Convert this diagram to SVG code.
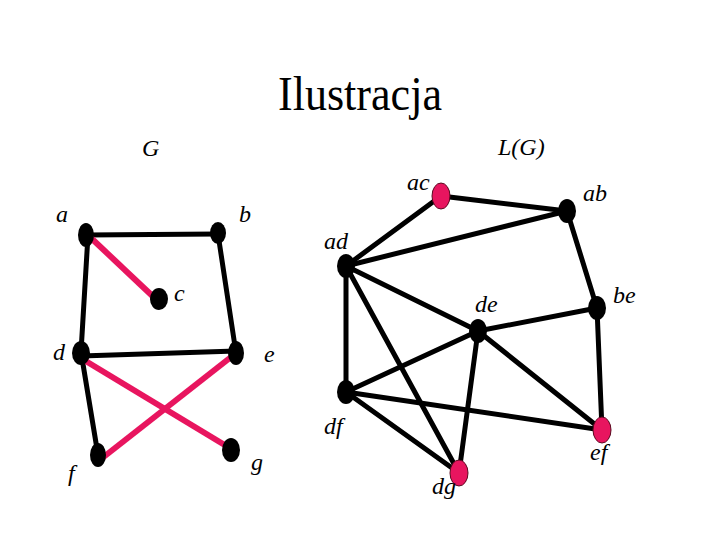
<svg xmlns="http://www.w3.org/2000/svg" width="720" height="540" viewBox="0 0 720 540">
<style>
.bg{fill:#fff}
.e{stroke:#000;stroke-width:5;stroke-linecap:round;fill:none}
.p{stroke:#e8155f;stroke-width:6;stroke-linecap:butt;fill:none}
.n{fill:#000}
.pn{fill:#e8155f;stroke:#5a0a20;stroke-width:1}
.lbl{font-family:"Liberation Serif","Times New Roman",serif;font-style:italic;font-size:24px;fill:#000}
.title{font-family:"Liberation Serif","Times New Roman",serif;font-size:48px;fill:#000}
</style>
<rect class="bg" x="0" y="0" width="720" height="540"/>
<text class="title" x="278" y="110" textLength="164" lengthAdjust="spacingAndGlyphs">Ilustracja</text>
<text class="lbl" x="142" y="156">G</text>
<text class="lbl" x="498" y="155">L(G)</text>
<g id="connectors">
  <line class="e" x1="86" y1="235" x2="218" y2="234"/>
  <line class="e" x1="88" y1="235" x2="81" y2="352"/>
  <line class="e" x1="218" y1="234" x2="236" y2="353"/>
  <line class="e" x1="81" y1="356" x2="236" y2="351"/>
  <line class="e" x1="81" y1="352" x2="98" y2="455"/>
  <line class="p" x1="90" y1="237" x2="162" y2="305"/>
  <line class="p" x1="84" y1="360" x2="228" y2="447"/>
  <line class="p" x1="240" y1="350" x2="101" y2="459"/>
  <line class="e" x1="441" y1="196" x2="567" y2="211"/>
  <line class="e" x1="441" y1="196" x2="346" y2="266"/>
  <line class="e" x1="346" y1="266" x2="567" y2="211"/>
  <line class="e" x1="567" y1="211" x2="597" y2="308"/>
  <line class="e" x1="346" y1="266" x2="478" y2="331"/>
  <line class="e" x1="346" y1="266" x2="346" y2="392"/>
  <line class="e" x1="346" y1="266" x2="459" y2="473"/>
  <line class="e" x1="597" y1="308" x2="478" y2="331"/>
  <line class="e" x1="597" y1="308" x2="602" y2="430"/>
  <line class="e" x1="478" y1="331" x2="346" y2="392"/>
  <line class="e" x1="478" y1="331" x2="459" y2="473"/>
  <line class="e" x1="478" y1="331" x2="602" y2="430"/>
  <line class="e" x1="346" y1="392" x2="459" y2="473"/>
  <line class="e" x1="346" y1="392" x2="602" y2="430"/>
</g>
<g id="a"><ellipse class="n" cx="86" cy="235" rx="8" ry="12"/><text class="lbl" x="56" y="222">a</text></g>
<g id="b"><ellipse class="n" cx="218" cy="233" rx="8" ry="11"/><text class="lbl" x="239" y="222">b</text></g>
<g id="c"><ellipse class="n" cx="159" cy="299" rx="9" ry="11"/><text class="lbl" x="174" y="301">c</text></g>
<g id="d"><ellipse class="n" cx="81" cy="353" rx="9" ry="12"/><text class="lbl" x="53" y="360">d</text></g>
<g id="e"><ellipse class="n" cx="236" cy="353" rx="8" ry="12"/><text class="lbl" x="264" y="362">e</text></g>
<g id="f"><ellipse class="n" cx="98" cy="455" rx="8" ry="12"/><text class="lbl" x="68" y="481">f</text></g>
<g id="g"><ellipse class="n" cx="231" cy="450" rx="9" ry="12"/><text class="lbl" x="251" y="470">g</text></g>
<g id="ac"><ellipse class="pn" cx="441" cy="196" rx="9" ry="13"/><text class="lbl" x="407" y="190">ac</text></g>
<g id="ab"><ellipse class="n" cx="567" cy="211" rx="9" ry="12"/><text class="lbl" x="583" y="201">ab</text></g>
<g id="ad"><ellipse class="n" cx="346" cy="266" rx="9" ry="12"/><text class="lbl" x="324" y="249">ad</text></g>
<g id="be"><ellipse class="n" cx="597" cy="308" rx="9" ry="12"/><text class="lbl" x="613" y="303">be</text></g>
<g id="de"><ellipse class="n" cx="478" cy="331" rx="9" ry="12"/><text class="lbl" x="475" y="312">de</text></g>
<g id="df"><ellipse class="n" cx="346" cy="392" rx="9" ry="12"/><text class="lbl" x="324" y="434">df</text></g>
<g id="ef"><ellipse class="pn" cx="602" cy="430" rx="9" ry="13"/><text class="lbl" x="590" y="460">ef</text></g>
<g id="dg"><ellipse class="pn" cx="459" cy="473" rx="9" ry="13"/><text class="lbl" x="432" y="494">dg</text></g>
</svg>
